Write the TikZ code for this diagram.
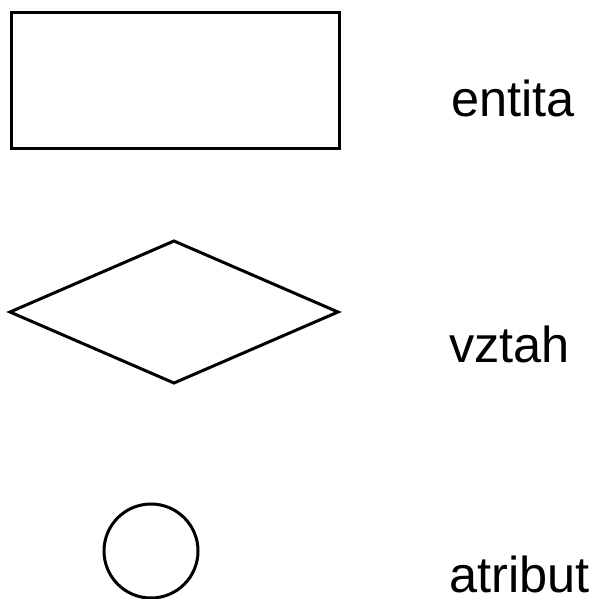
\documentclass[tikz,border=0pt]{standalone}
\usepackage{fontspec}
\setmainfont{Liberation Sans}
\usetikzlibrary{shapes.geometric}
\begin{document}
\begin{tikzpicture}[x=1pt,y=-1pt,
  shp/.style={draw=black,line width=3pt,inner sep=0pt,outer sep=0pt},
  lbl/.style={anchor=base west,inner sep=0pt,text depth=0pt,font=\fontsize{50.5}{52}\selectfont}]
\useasboundingbox (0,0) rectangle (599,599);
\node[shp,rectangle,minimum width=328pt,minimum height=135pt] (ent) at (175,80.5) {};
\node[shp,diamond,minimum width=328pt,minimum height=142pt,aspect=2.31] (rel) at (174,312) {};
\node[shp,circle,minimum size=94pt] (att) at (151,551) {};
\node[lbl] (tent) at (451,117) {entita};
\node[lbl] (trel) at (449,362) {vztah};
\node[lbl] (tatt) at (449,592) {atribut};
\end{tikzpicture}
\end{document}
